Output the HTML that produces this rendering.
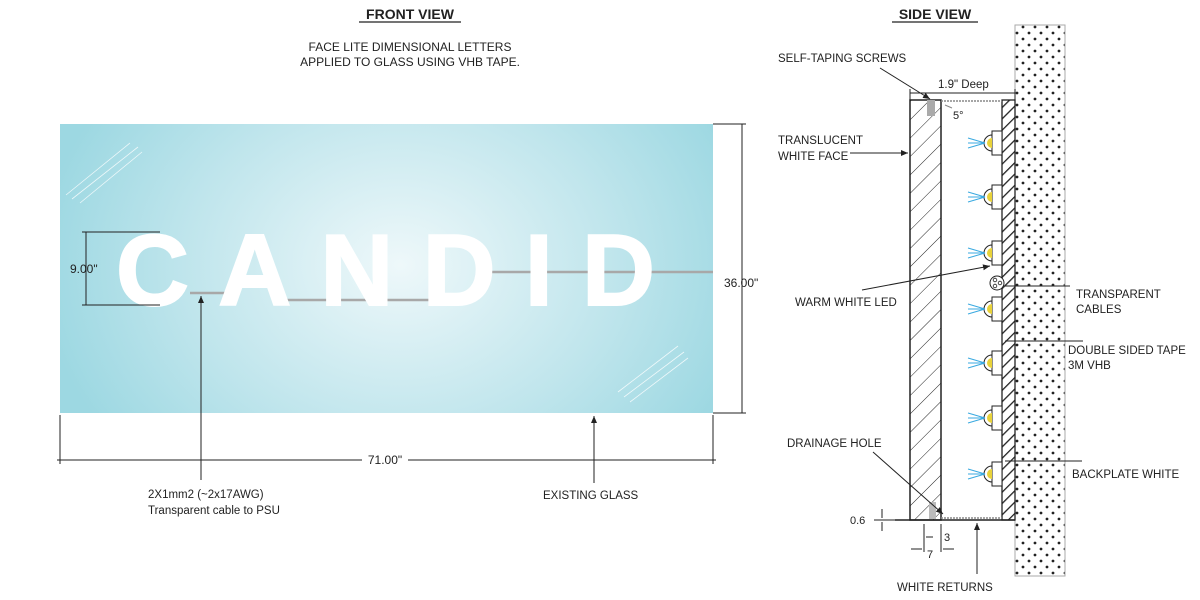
<!DOCTYPE html>
<html><head><meta charset="utf-8"><style>
html,body{margin:0;padding:0;background:#fff;}
svg{display:block;font-family:"Liberation Sans",sans-serif;}
</style></head><body>
<svg width="1200" height="600" viewBox="0 0 1200 600" xmlns="http://www.w3.org/2000/svg">
<defs>
<radialGradient id="g" cx="400" cy="265" r="360" gradientUnits="userSpaceOnUse" gradientTransform="translate(400 265) scale(1 0.8) translate(-400 -265)">
<stop offset="0" stop-color="#eef8fa"/><stop offset="0.6" stop-color="#bfe5ec"/><stop offset="1" stop-color="#9dd8e2"/>
</radialGradient>
<pattern id="dots" width="12" height="12" patternUnits="userSpaceOnUse">
<circle cx="3" cy="3" r="1.4" fill="#222"/><circle cx="9" cy="9" r="1.4" fill="#222"/>
</pattern>
<pattern id="hatch" width="13" height="13" patternUnits="userSpaceOnUse" patternTransform="rotate(45)">
<line x1="0" y1="0" x2="0" y2="13" stroke="#222" stroke-width="1"/>
</pattern>
<pattern id="hatch2" width="8" height="8" patternUnits="userSpaceOnUse" patternTransform="rotate(45)">
<line x1="0" y1="0" x2="0" y2="8" stroke="#222" stroke-width="2.6"/>
</pattern>
<marker id="ar" markerWidth="8" markerHeight="8" refX="7" refY="4" orient="auto"><path d="M0,1 L7,4 L0,7 z" fill="#222"/></marker>
</defs>

<!-- FRONT VIEW -->
<text x="410" y="19" font-size="14" font-weight="bold" text-anchor="middle" fill="#222">FRONT VIEW</text>
<line x1="359" y1="22" x2="461" y2="22" stroke="#222" stroke-width="1.2"/>
<text x="410" y="51" font-size="12" text-anchor="middle" fill="#222">FACE LITE DIMENSIONAL LETTERS</text>
<text x="410" y="66" font-size="12" text-anchor="middle" fill="#222">APPLIED TO GLASS USING VHB TAPE.</text>

<rect x="60" y="124" width="653" height="289" fill="url(#g)"/>
<g stroke="#fff" stroke-width="0.8" opacity="0.8">
<line x1="66" y1="195" x2="130" y2="143"/><line x1="72" y1="199" x2="138" y2="147"/><line x1="80" y1="203" x2="142" y2="152"/>
<line x1="618" y1="392" x2="678" y2="346"/><line x1="624" y1="397" x2="684" y2="352"/><line x1="630" y1="402" x2="688" y2="358"/>
</g>
<polyline points="190,293 230,293" stroke="#a8a8a8" stroke-width="2.5" fill="none"/>
<polyline points="280,300 450,300" stroke="#a8a8a8" stroke-width="2.5" fill="none"/>
<polyline points="490,272 713,272" stroke="#a8a8a8" stroke-width="2.5" fill="none"/>
<text x="116" y="305" font-size="101" font-weight="bold" fill="#fff" stroke="#fff" stroke-width="2" textLength="539" lengthAdjust="spacing">CANDID</text>

<g stroke="#222" stroke-width="1">
<line x1="86" y1="232" x2="86" y2="305"/>
<line x1="82" y1="232" x2="160" y2="232"/><line x1="82" y1="305" x2="160" y2="305"/>
<line x1="713" y1="124" x2="746" y2="124"/><line x1="713" y1="413" x2="746" y2="413"/>
<line x1="742" y1="124" x2="742" y2="413"/>
<line x1="60" y1="415" x2="60" y2="464"/><line x1="713" y1="415" x2="713" y2="464"/>
<line x1="57" y1="460" x2="716" y2="460"/>
<line x1="201" y1="480" x2="201" y2="296" marker-end="url(#ar)"/>
<line x1="594" y1="483" x2="594" y2="416" marker-end="url(#ar)"/>
</g>
<text x="70" y="273" font-size="12" fill="#222">9.00"</text>
<text x="724" y="287" font-size="12" fill="#222">36.00"</text>
<rect x="362" y="452" width="46" height="14" fill="#fff"/>
<text x="385" y="464" font-size="12" text-anchor="middle" fill="#222">71.00"</text>
<text x="148" y="498" font-size="11.5" fill="#222">2X1mm2 (~2x17AWG)</text>
<text x="148" y="514" font-size="11.5" fill="#222">Transparent cable to PSU</text>
<text x="543" y="499" font-size="11.5" fill="#222">EXISTING GLASS</text>

<!-- SIDE VIEW -->
<text x="935" y="19" font-size="14" font-weight="bold" text-anchor="middle" fill="#222">SIDE VIEW</text>
<line x1="892" y1="22" x2="978" y2="22" stroke="#222" stroke-width="1.2"/>

<rect x="1015" y="25" width="50" height="551" fill="url(#dots)" stroke="#aaa" stroke-width="1"/>
<rect x="910" y="100" width="31" height="420" fill="url(#hatch)" stroke="#222" stroke-width="1.5"/>
<rect x="1002" y="100" width="13" height="420" fill="url(#hatch2)" stroke="#222" stroke-width="1.3"/>
<line x1="941" y1="101" x2="1002" y2="101" stroke="#888" stroke-width="1.5" stroke-dasharray="2,1"/>
<line x1="941" y1="518" x2="1002" y2="518" stroke="#888" stroke-width="1.5" stroke-dasharray="2,1"/>
<line x1="895" y1="520" x2="1015" y2="520" stroke="#222" stroke-width="1.5"/>
<rect x="927" y="100" width="8" height="16" fill="#aaa"/>
<rect x="929" y="502" width="7" height="17" fill="#bbb"/>

<g id="leds">
<g transform="translate(0,143)"><rect x="992" y="-12" width="10" height="24" fill="#fff" stroke="#222"/><path d="M992,-8 A8,8 0 0 0 992,8 Z" fill="#fff" stroke="#222"/><path d="M992,-5 A5,5 0 0 0 992,5 Z" fill="#e8d23a"/><g stroke="#39a9e0" stroke-width="1"><line x1="985" y1="0" x2="968" y2="-5"/><line x1="985" y1="0" x2="968" y2="0"/><line x1="985" y1="0" x2="968" y2="5"/></g></g>
</g>
<use href="#leds" y="54"/><use href="#leds" y="110"/><use href="#leds" y="166"/><use href="#leds" y="220"/><use href="#leds" y="275"/><use href="#leds" y="331"/>
<circle cx="997" cy="283" r="7" fill="#fff" stroke="#222"/>
<circle cx="995" cy="280" r="1.8" fill="none" stroke="#222" stroke-width="0.8"/><circle cx="995" cy="286" r="1.8" fill="none" stroke="#222" stroke-width="0.8"/><circle cx="1000" cy="283" r="1.8" fill="none" stroke="#222" stroke-width="0.8"/>

<g stroke="#222" stroke-width="1">
<line x1="910" y1="93" x2="1015" y2="93"/><line x1="910" y1="89" x2="910" y2="100"/><line x1="1015" y1="89" x2="1015" y2="100"/>
<line x1="880" y1="68" x2="930" y2="99" marker-end="url(#ar)"/>
<line x1="850" y1="153" x2="908" y2="153" marker-end="url(#ar)"/>
<line x1="862" y1="290" x2="990" y2="266" marker-end="url(#ar)"/>
<line x1="1005" y1="286" x2="1070" y2="286"/>
<line x1="1005" y1="341" x2="1083" y2="341"/>
<line x1="1005" y1="461" x2="1082" y2="461"/>
<line x1="873" y1="452" x2="943" y2="514" marker-end="url(#ar)"/>
<line x1="977" y1="574" x2="977" y2="523" marker-end="url(#ar)"/>
<line x1="874" y1="520" x2="895" y2="520"/>
<line x1="882" y1="509" x2="882" y2="518"/><line x1="882" y1="531" x2="882" y2="522"/>
<line x1="924" y1="524" x2="924" y2="552"/><line x1="941" y1="524" x2="941" y2="552"/>
<line x1="933" y1="537" x2="926" y2="537"/>
<line x1="911" y1="549" x2="922" y2="549"/><line x1="954" y1="549" x2="943" y2="549"/>
<line x1="945" y1="105" x2="952" y2="108" stroke="#888"/>
</g>
<text x="778" y="62" font-size="11.5" fill="#222">SELF-TAPING SCREWS</text>
<text x="938" y="88" font-size="11.5" fill="#222">1.9" Deep</text>
<text x="953" y="119" font-size="11" fill="#222">5°</text>
<text x="778" y="144" font-size="11.5" fill="#222">TRANSLUCENT</text>
<text x="778" y="160" font-size="11.5" fill="#222">WHITE FACE</text>
<text x="795" y="306" font-size="11.5" fill="#222">WARM WHITE LED</text>
<text x="1076" y="298" font-size="11.5" fill="#222">TRANSPARENT</text>
<text x="1076" y="313" font-size="11.5" fill="#222">CABLES</text>
<text x="1068" y="354" font-size="11.5" fill="#222">DOUBLE SIDED TAPE</text>
<text x="1068" y="369" font-size="11.5" fill="#222">3M VHB</text>
<text x="1072" y="478" font-size="11.5" fill="#222">BACKPLATE WHITE</text>
<text x="787" y="447" font-size="11.5" fill="#222">DRAINAGE HOLE</text>
<text x="850" y="524" font-size="11" fill="#222">0.6</text>
<text x="944" y="541" font-size="11" fill="#222">3</text>
<text x="927" y="558" font-size="11" fill="#222">7</text>
<text x="897" y="591" font-size="11.5" fill="#222">WHITE RETURNS</text>
</svg>
</body></html>
